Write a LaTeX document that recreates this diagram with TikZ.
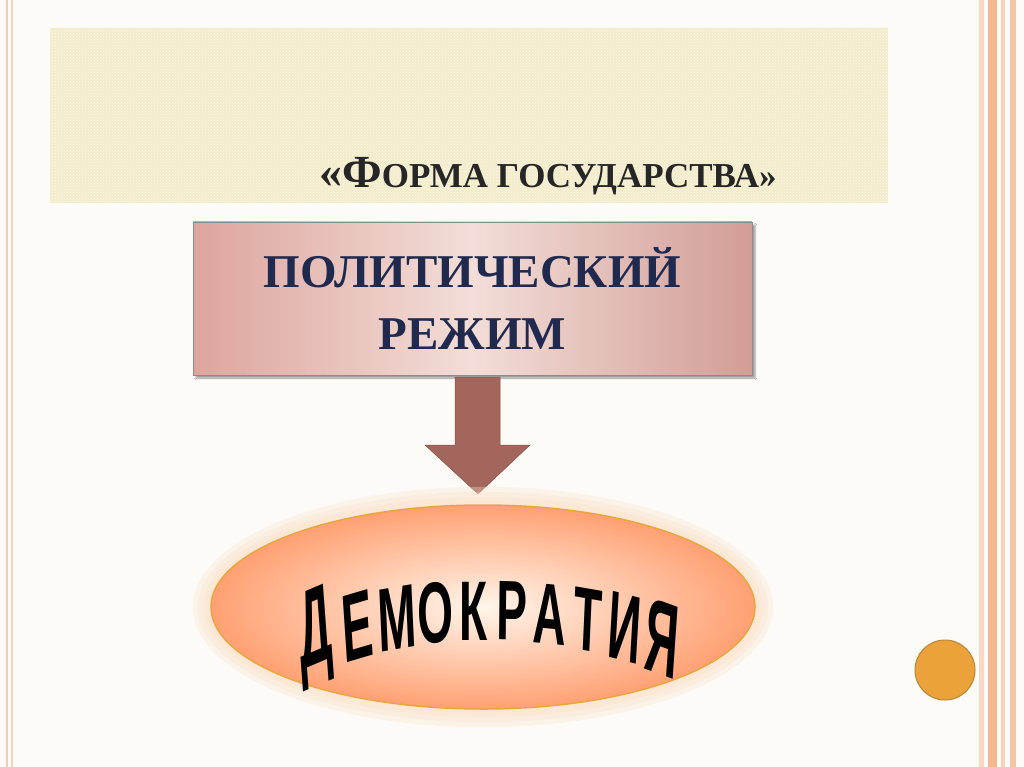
\documentclass[tikz,border=0pt]{standalone}
\usepackage{fontspec}
\setmainfont{Liberation Serif}
\newfontfamily\wordart{Liberation Sans}
\usetikzlibrary{shadows.blur,patterns,shapes.geometric}
\definecolor{bg}{HTML}{FDFBF8}
\definecolor{band}{HTML}{F2ECCB}
\definecolor{navy}{HTML}{1F2A4E}
\definecolor{arrowc}{HTML}{A3665C}
\definecolor{stripe}{HTML}{F3B890}
\definecolor{gold}{HTML}{E9A640}
\definecolor{boxedge}{HTML}{DDA59E}
\definecolor{boxmid}{HTML}{F3DDD8}
\tikzset{
  letter/.style={font=\wordart\bfseries\fontsize{92}{92}\selectfont, text=black, inner sep=0pt, xscale=0.5},
}
\begin{document}
\begin{tikzpicture}[x=1pt,y=-1pt]
\useasboundingbox (0,0) rectangle (1024,767);
\fill[bg] (0,0) rectangle (1024,767);
% left border lines
\fill[stripe!70] (6,0) rectangle (8,767);
\fill[stripe!60] (11,0) rectangle (12.5,767);
% right stripes
\fill[stripe!55] (979,0) rectangle (984,767);
\fill[stripe] (988,0) rectangle (997,767);
\fill[stripe!60] (1001,0) rectangle (1005,767);
\fill[stripe!80] (1010,0) rectangle (1016,767);
% title band
\fill[band] (50,28) rectangle (888,203);
\fill[pattern=crosshatch dots, pattern color=white!70!band] (50,28) rectangle (888,203);
\node[text=black!85, inner sep=0pt, font=\bfseries] (title) at (548,176)
  {\fontsize{46}{46}\selectfont «Ф\fontsize{35}{35}\selectfont ОРМА ГОСУДАРСТВА»};
% box
\node[draw=black!45, line width=0.8pt, minimum width=559pt, minimum height=153pt,
  left color=boxedge, right color=boxedge!95!black,
  middle color=boxmid, blur shadow={shadow xshift=3pt, shadow yshift=-3pt},
  align=center, text=navy, font=\bfseries\fontsize{47}{62}\selectfont] (box) at (472.5,298.5)
  {ПОЛИТИЧЕСКИЙ\\РЕЖИМ};
% arrow
\fill[arrowc, draw=arrowc!80!black, line width=0.5pt] (455,377) -- (500,377) -- (500,445) -- (530,445)
  -- (478,494) -- (425,445) -- (455,445) -- cycle;
% ellipse glow
\foreach \i in {14,10,6,3}{
  \fill[black!\i!orange!20!white, opacity=0.35] (483,607) ellipse ({272+\i*1.3} and {102+\i*1.3});
}
\node[draw=gold, line width=1.5pt, ellipse, minimum width=544pt, minimum height=204pt,
  inner color=orange!8!white, outer color=orange!65!red!55!white] (ell) at (483,607) {};
% warped text
\foreach \ch/\xx/\yy/\ang/\ys in {Д/316/637/10/1.2, Е/357/626/8/1.05, М/397/618/5/0.98, О/436/613/3/0.94, К/474/611/0/0.92,
  Р/512/611/-1/0.92, А/550/614/-3/0.94, Т/588/620/-5/0.98, И/625/628/-7/1.05, Я/662/638/-9/1.15}{
  \node[letter, yscale=\ys, rotate=\ang] (L\xx) at (\xx,\yy) {\ch};
}
% circle
\fill[gold!90!orange, draw=gold!80!black, line width=1pt] (945,670) circle (30);
\end{tikzpicture}
\end{document}
